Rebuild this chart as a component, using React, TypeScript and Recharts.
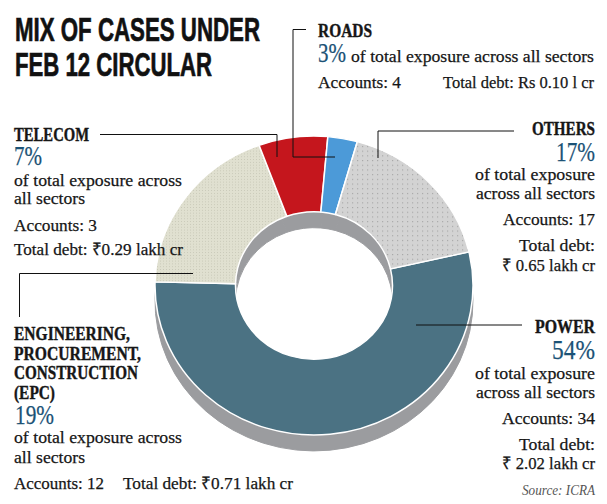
import type { FC } from "react";
import { Cell, Pie, PieChart } from "recharts";

const sectors = ["Power", "EPC", "Telecom", "Roads", "Others"];
const shares = [54, 19, 7, 3, 17];
const accounts = [34, 12, 3, 4, 17];
const debts = ["2.02", "0.71", "0.29", "0.10", "0.65"];

const sliceColors = ["#4b7283", "url(#beige)", "#c5161d", "#4c9ad8", "url(#dots)"];
const depthColor = "#9b9c9f";
const pctColor = "#1b5276";
const serif = "'Liberation Serif', serif";

const pieData = sectors.map((name, i) => ({ name, value: shares[i] }));

const CX = 314;
const CY = 285.5;
const SQUASH = 0.94;

interface LabelProps {
  x: number;
  y: number;
  w: number;
  size?: number;
  bold?: boolean;
  end?: boolean;
  color?: string;
  text: string;
  italic?: boolean;
}

// w is the width the line takes up in the reference
const Label: FC<LabelProps> = ({ x, y, w, size = 17.5, bold, end, color = "#161616", text, italic }) => (
  <text
    x={x}
    y={y}
    fontFamily={serif}
    fontSize={size}
    fontWeight={bold ? 700 : 400}
    fontStyle={italic ? "italic" : "normal"}
    fill={color}
    stroke={color}
    strokeWidth={italic ? 0 : bold ? 0.4 : 0.25}
    textAnchor={end ? "end" : "start"}
    textLength={w}
    lengthAdjust="spacingAndGlyphs"
  >
    {text}
  </text>
);

const Annotations: FC = () => (
  <svg width={607} height={504} style={{ position: "absolute", left: 0, top: 0 }}>
    <g
      fontFamily="'Liberation Sans Narrow', 'Liberation Sans', sans-serif"
      fontWeight={700}
      fontSize={33.5}
      fill="#111"
      stroke="#111"
      strokeWidth={0.7}
    >
      <text x={15} y={40.5} textLength={245} lengthAdjust="spacingAndGlyphs">MIX OF CASES UNDER</text>
      <text x={15} y={76} textLength={197} lengthAdjust="spacingAndGlyphs">FEB 12 CIRCULAR</text>
    </g>

    <g fill="none" stroke="#111" strokeWidth={1}>
      <polyline points="100,134.5 277,134.5 277,157" />
      <polyline points="306,29.5 293,29.5 293,157 335,157" />
      <polyline points="514,131 378,131 378,158" />
      <polyline points="193,273.5 19.5,273.5 19.5,317" />
      <polyline points="416,325 522,325" />
    </g>

    <Label x={14} y={141} w={75} size={18.5} bold text="TELECOM" />
    <Label x={14} y={165} w={28} size={28} color={pctColor} text={`${shares[2]}%`} />
    <Label x={14} y={185.5} w={168} text="of total exposure across" />
    <Label x={14} y={204} w={71} text="all sectors" />
    <Label x={14} y={230.5} w={83} text={`Accounts: ${accounts[2]}`} />
    <Label x={14} y={255} w={169} text={`Total debt: ₹${debts[2]} lakh cr`} />

    <Label x={318} y={36.5} w={54} size={18.5} bold text="ROADS" />
    <Label x={318} y={61.5} w={28} size={28} color={pctColor} text={`${shares[3]}%`} />
    <Label x={351} y={61.5} w={243} text="of total exposure across all sectors" />
    <Label x={318} y={87.5} w={83} text={`Accounts: ${accounts[3]}`} />
    <Label x={443} y={87.5} w={151} text={`Total debt: Rs ${debts[3]} l cr`} />

    <Label x={595} y={135} w={63} size={18.5} bold end text="OTHERS" />
    <Label x={595} y={160.5} w={39} size={28} end color={pctColor} text={`${shares[4]}%`} />
    <Label x={595} y={180} w={120} end text="of total exposure" />
    <Label x={595} y={199} w={119} end text="across all sectors" />
    <Label x={595} y={225} w={92} end text={`Accounts: ${accounts[4]}`} />
    <Label x={595} y={250.5} w={76} end text="Total debt:" />
    <Label x={595} y={270.5} w={93} end text={`₹ ${debts[4]} lakh cr`} />

    <Label x={595} y={333} w={60} size={18.5} bold end text="POWER" />
    <Label x={595} y={359} w={43} size={28} end color={pctColor} text={`${shares[0]}%`} />
    <Label x={595} y={378.5} w={120} end text="of total exposure" />
    <Label x={595} y={398} w={119} end text="across all sectors" />
    <Label x={595} y={424} w={93} end text={`Accounts: ${accounts[0]}`} />
    <Label x={595} y={450} w={76} end text="Total debt:" />
    <Label x={595} y={469} w={93} end text={`₹ ${debts[0]} lakh cr`} />
    <Label x={595} y={495} w={73} size={15} end italic color="#555" text="Source: ICRA" />

    <Label x={14} y={340} w={116} size={18.5} bold text="ENGINEERING," />
    <Label x={14} y={360} w={127} size={18.5} bold text="PROCUREMENT," />
    <Label x={14} y={379} w={124} size={18.5} bold text="CONSTRUCTION" />
    <Label x={14} y={399} w={41} size={18.5} bold text="(EPC)" />
    <Label x={15} y={424} w={39} size={28} color={pctColor} text={`${shares[1]}%`} />
    <Label x={14} y={443} w={168} text="of total exposure across" />
    <Label x={14} y={463} w={71} text="all sectors" />
    <Label x={14} y={489} w={90} text={`Accounts: ${accounts[1]}`} />
    <Label x={123} y={489} w={170} text={`Total debt: ₹${debts[1]} lakh cr`} />
  </svg>
);

export default function App() {
  return (
    <div style={{ position: "absolute", left: 0, top: 0, width: 607, height: 504, background: "#fff" }}>
      <div style={{ position: "absolute", left: 0, top: 0, transform: `scaleY(${SQUASH})`, transformOrigin: `0 ${CY}px` }}>
        <PieChart width={607} height={560} margin={{ top: 0, right: 0, bottom: 0, left: 0 }}>
          <defs>
            <pattern id="dots" width={5} height={5} patternUnits="userSpaceOnUse">
              <rect width={5} height={5} fill="#d3d3d3" />
              <rect x={2} y={2} width={1.2} height={1.2} fill="#a8a8a8" />
            </pattern>
            <pattern id="beige" width={3} height={3} patternUnits="userSpaceOnUse">
              <rect width={3} height={3} fill="#e0e0d0" />
              <rect x={1} y={1} width={1} height={1} fill="#c9c9b8" />
            </pattern>
          </defs>
          <Pie
            data={pieData}
            dataKey="value"
            cx={CX}
            cy={CY + 17}
            innerRadius={78.5}
            outerRadius={159}
            startAngle={13}
            endAngle={-347}
            fill={depthColor}
            stroke={depthColor}
            isAnimationActive={false}
          />
          <Pie
            data={pieData}
            dataKey="value"
            cx={CX}
            cy={CY}
            innerRadius={78.5}
            outerRadius={159}
            startAngle={13}
            endAngle={-347}
            stroke="#fff"
            strokeWidth={1.5}
            isAnimationActive={false}
          >
            {pieData.map((d, i) => (
              <Cell key={d.name} fill={sliceColors[i]} />
            ))}
          </Pie>
        </PieChart>
      </div>
      <Annotations />
    </div>
  );
}
